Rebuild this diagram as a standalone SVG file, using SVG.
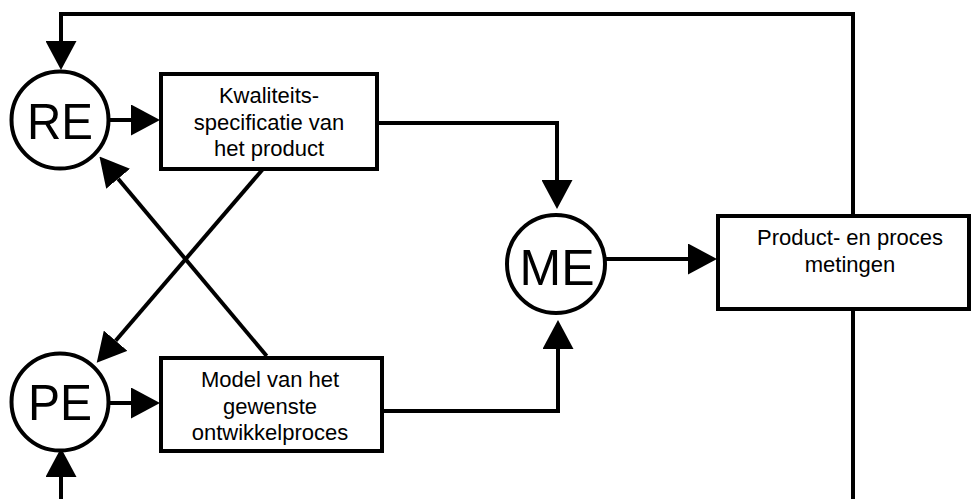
<svg xmlns="http://www.w3.org/2000/svg" width="971" height="499" viewBox="0 0 971 499">
<style>
.ln{fill:none;stroke:#000;stroke-width:4;stroke-linejoin:miter;stroke-linecap:butt}
.ar{marker-end:url(#ah)}
.box{fill:#fff;stroke:#000;stroke-width:4}
.cir{fill:#fff;stroke:#000;stroke-width:4}
.bt{font-family:"Liberation Sans",Arial,sans-serif;font-size:22px;text-anchor:middle;fill:#000}
.ct{font-family:"Liberation Sans",Arial,sans-serif;font-size:50px;text-anchor:middle;fill:#000}
</style>
<defs>
<marker id="ah" markerUnits="userSpaceOnUse" viewBox="0 0 29 31" markerWidth="29" markerHeight="31" refX="0" refY="15.5" orient="auto">
<path d="M0,0 L29,15.5 L0,31 Z" fill="#000"/>
</marker>
</defs>
<rect width="971" height="499" fill="#fff"/>
<g id="connectors">
<polyline class="ln ar" points="853,216 853,14 61,14 61,41"/>
<line class="ln ar" x1="110" y1="120" x2="131" y2="120"/>
<polyline class="ln ar" points="377,123 557,123 557,180"/>
<polyline class="ln ar" points="382,411 558,411 558,349"/>
<line class="ln ar" x1="606" y1="259" x2="688" y2="259"/>
<line class="ln ar" x1="110" y1="403" x2="131" y2="403"/>
<line class="ln ar" x1="61" y1="499" x2="61" y2="477"/>
<line class="ln" x1="853" y1="309" x2="853" y2="499"/>
<line class="ln ar" x1="263" y1="169" x2="115.6" y2="340.7"/>
<line class="ln ar" x1="266.7" y1="356" x2="118.1" y2="178.8"/>
</g>
<g id="RE">
<circle class="cir" cx="60" cy="120" r="48.5"/>
<text class="ct" x="60" y="139" textLength="66" lengthAdjust="spacingAndGlyphs">RE</text>
</g>
<g id="PE">
<circle class="cir" cx="60" cy="402" r="48.5"/>
<text class="ct" x="60" y="420" textLength="64" lengthAdjust="spacingAndGlyphs">PE</text>
</g>
<g id="ME">
<circle class="cir" cx="556" cy="264" r="49"/>
<text class="ct" x="557" y="285" textLength="75" lengthAdjust="spacingAndGlyphs">ME</text>
</g>
<g id="kwaliteit">
<rect class="box" x="161" y="74" width="216" height="95"/>
<text class="bt" x="269" y="103">Kwaliteits-</text>
<text class="bt" x="269" y="129.5">specificatie van</text>
<text class="bt" x="269" y="155.5">het product</text>
</g>
<g id="model">
<rect class="box" x="161" y="358" width="221" height="93"/>
<text class="bt" x="270" y="387">Model van het</text>
<text class="bt" x="270" y="413.5">gewenste</text>
<text class="bt" x="270" y="440">ontwikkelproces</text>
</g>
<g id="metingen">
<rect class="box" x="718" y="216" width="251" height="93"/>
<text class="bt" x="850" y="245">Product- en proces</text>
<text class="bt" x="850" y="271.5">metingen</text>
</g>
</svg>
